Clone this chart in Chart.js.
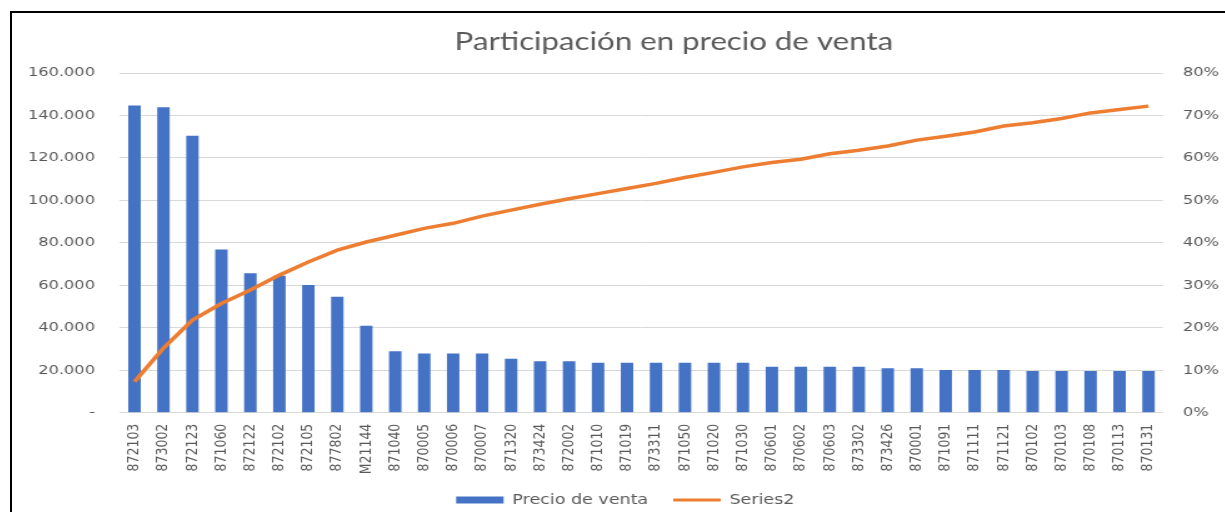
<!DOCTYPE html>
<html>
<head>
<meta charset="utf-8">
<script src="https://cdn.jsdelivr.net/npm/chart.js@4/dist/chart.umd.min.js"></script>
<style>
html,body{margin:0;padding:0;background:#fff;overflow:hidden;width:1225px;height:512px;}
#frame{position:absolute;left:10px;top:11px;width:1300px;height:600px;border-top:2px solid #000;border-left:2px solid #000;box-sizing:border-box;}
#wrap{position:absolute;left:12px;top:13px;width:1059px;height:504px;transform:scaleX(1.25);transform-origin:0 0;}
</style>
</head>
<body>
<div id="frame"></div>
<div id="wrap"><canvas id="c"></canvas></div>
<script>
const categories = ['872103','873002','872123','871060','872122','872102','872105','877802','M21144','871040','870005','870006','870007','871320','873424','872002','871010','871019','873311','871050','871020','871030','870601','870602','870603','873302','873426','870001','871091','871111','871121','870102','870103','870108','870113','870131'];
const precioVenta = [144700,143900,130400,76900,65700,64500,60100,54600,40900,29000,27900,27900,27900,25400,24200,24200,23500,23500,23500,23500,23500,23500,21600,21600,21600,21600,20900,20900,20100,20100,20100,19600,19600,19600,19600,19600];
const series2 = [0.073,0.152,0.218,0.257,0.289,0.324,0.355,0.383,0.402,0.418,0.434,0.446,0.463,0.477,0.491,0.504,0.516,0.528,0.540,0.554,0.566,0.579,0.589,0.597,0.610,0.618,0.628,0.642,0.651,0.661,0.675,0.683,0.693,0.706,0.714,0.722];
const leftTicks = {min:0, max:160000, step:20000};
const rightTicks = {min:0, max:0.8, step:0.1};
const titleText = 'Participación en precio de venta';
const seriesNames = ['Precio de venta','Series2'];

Chart.defaults.font.family = "'DejaVu Sans', sans-serif";
Chart.defaults.color = '#595959';

function fmtThousands(v){
  if (v === 0) return '-';
  return String(Math.round(v)).replace(/\B(?=(\d{3})+(?!\d))/g, '.');
}

// nudge the legend box slightly left to sit where the original legend sits
const legendShift = {
  id: 'legendShift',
  afterLayout(chart) {
    const l = chart.legend;
    if (l) { l.left -= 13; l.right -= 13; }
  }
};

new Chart(document.getElementById('c'), {
  data: {
    labels: categories,
    datasets: [
      {
        type: 'bar',
        label: seriesNames[0],
        data: precioVenta,
        yAxisID: 'y',
        backgroundColor: '#4472C4',
        borderWidth: 0,
        barPercentage: 0.43,
        categoryPercentage: 1,
        pointStyle: 'rect',
        order: 1
      },
      {
        type: 'line',
        label: seriesNames[1],
        data: series2,
        yAxisID: 'y1',
        borderColor: '#ED7D31',
        backgroundColor: '#ED7D31',
        borderWidth: 3.5,
        pointRadius: 0,
        pointHoverRadius: 0,
        pointStyle: 'line',
        pointBorderWidth: 3,
        pointBorderColor: '#ED7D31',
        tension: 0,
        order: 0
      }
    ]
  },
  plugins: [legendShift],
  options: {
    responsive: true,
    maintainAspectRatio: false,
    animation: false,
    layout: {padding: {left: 0, right: 0, top: 0, bottom: 0}},
    plugins: {
      title: {
        display: true,
        text: titleText,
        color: '#595959',
        font: {family: "'Lato', sans-serif", size: 25, weight: 'normal'},
        padding: {top: 14, bottom: 16}
      },
      legend: {
        display: true,
        position: 'bottom',
        fullSize: false,
        labels: {
          usePointStyle: true,
          pointStyleWidth: 38,
          boxHeight: 7,
          padding: 20,
          color: '#595959',
          font: {size: 14},
          sort: (a, b) => a.datasetIndex - b.datasetIndex
        }
      },
      tooltip: {enabled: false}
    },
    scales: {
      x: {
        offset: true,
        grid: {display: false, drawTicks: false},
        border: {display: true, color: '#d9d9d9', width: 1},
        ticks: {minRotation: 90, maxRotation: 90, autoSkip: false, padding: 11, font: {size: 12.5}, color: '#595959'},
        afterFit: (s) => { s.height = 60.3; }
      },
      y: {
        position: 'left',
        min: leftTicks.min,
        max: leftTicks.max,
        grid: {color: '#d9d9d9', lineWidth: 1, drawTicks: false},
        border: {display: false},
        ticks: {stepSize: leftTicks.step, padding: 20, font: {size: 13}, color: '#595959', callback: (v) => fmtThousands(v)},
        afterFit: (s) => { s.width = 86.4; }
      },
      y1: {
        position: 'right',
        min: rightTicks.min,
        max: rightTicks.max,
        grid: {display: false, drawTicks: false},
        border: {display: false},
        ticks: {stepSize: rightTicks.step, padding: 16, font: {size: 13}, color: '#595959', callback: (v) => Math.round(v * 100) + '%'},
        afterFit: (s) => { s.width = 138.2; }
      }
    }
  }
});
</script>
</body>
</html>
